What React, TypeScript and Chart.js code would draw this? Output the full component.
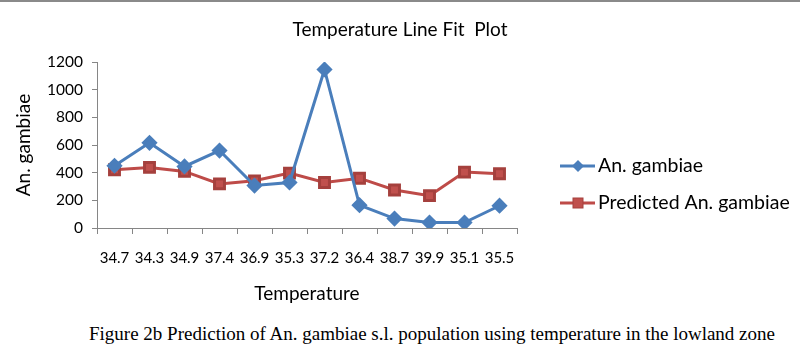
import React, { useEffect, useRef } from "react";
import { Chart, registerables } from "chart.js";

Chart.register(...registerables);

const temperatures = ["34.7", "34.3", "34.9", "37.4", "36.9", "35.3", "37.2", "36.4", "38.7", "39.9", "35.1", "35.5"];
const observed = [450, 616, 445, 560, 307, 329, 1146, 165, 68, 39, 39, 161];
const predicted = [421, 438, 409, 319, 341, 397, 329, 360, 275, 234, 404, 392];
const yTicks = [0, 200, 400, 600, 800, 1000, 1200];
const chartTitle = "Temperature Line Fit  Plot";

const FONT = "Lato, 'Noto Sans', sans-serif";

const legendPlugin = {
  id: "sideLegend",
  afterDraw(chart: any) {
    const ctx = chart.ctx;
    const items = chart.data.datasets;
    const x0 = 560;
    const ys = [166, 203];
    ctx.save();
    // title centered on the whole figure
    ctx.fillStyle = "#000";
    ctx.font = `19px ${FONT}`;
    ctx.textAlign = "center";
    ctx.textBaseline = "middle";
    ctx.fillText(chartTitle, 400, 30);
    items.forEach((ds: any, i: number) => {
      const y = ys[i];
      ctx.strokeStyle = ds.borderColor;
      ctx.lineWidth = 3;
      ctx.beginPath();
      ctx.moveTo(x0, y);
      ctx.lineTo(x0 + 35, y);
      ctx.stroke();
      const cx = x0 + 18;
      ctx.fillStyle = ds.pointBackgroundColor;
      ctx.strokeStyle = ds.pointBorderColor;
      ctx.lineWidth = 1;
      if (ds.pointStyle === "rectRot") {
        const r = 6;
        ctx.beginPath();
        ctx.moveTo(cx, y - r);
        ctx.lineTo(cx + r, y);
        ctx.lineTo(cx, y + r);
        ctx.lineTo(cx - r, y);
        ctx.closePath();
        ctx.fill();
      } else {
        const s = 10;
        ctx.fillRect(cx - s / 2, y - s / 2, s, s);
        ctx.strokeRect(cx - s / 2, y - s / 2, s, s);
      }
      ctx.fillStyle = "#000";
      ctx.font = `19.5px ${FONT}`;
      ctx.textBaseline = "middle";
      ctx.textAlign = "left";
      ctx.fillText(ds.label, x0 + 38, y);
    });
    ctx.restore();
  },
};

export default function App() {
  const ref = useRef<HTMLCanvasElement | null>(null);

  useEffect(() => {
    if (!ref.current) return;
    const chart = new Chart(ref.current, {
      type: "line",
      data: {
        labels: temperatures,
        datasets: [
          {
            label: "An. gambiae",
            data: observed,
            borderColor: "#4A7EBB",
            backgroundColor: "#4A7EBB",
            pointBackgroundColor: "#4A7EBB",
            pointBorderColor: "#4A7EBB",
            pointStyle: "rectRot",
            pointRadius: 6,
            borderWidth: 3,
            tension: 0,
          },
          {
            label: "Predicted An. gambiae",
            data: predicted,
            borderColor: "#BE4B48",
            backgroundColor: "#C0504D",
            pointBackgroundColor: "#C0504D",
            pointBorderColor: "#A5403D",
            pointStyle: "rect",
            pointRadius: 7,
            borderWidth: 3,
            tension: 0,
          },
        ],
      },
      options: {
        animation: false,
        responsive: false,
        maintainAspectRatio: false,
        layout: { padding: { left: 0, right: 283, top: 62, bottom: 0 } },
        plugins: {
          legend: { display: false },
          tooltip: { enabled: false },
          title: { display: false },
        },
        scales: {
          x: {
            offset: true,
            grid: {
              display: true,
              offset: true,
              drawOnChartArea: false,
              drawTicks: true,
              tickLength: 6,
              color: "#868686",
            },
            border: { display: true, color: "#868686", width: 1 },
            ticks: {
              color: "#000",
              font: { family: FONT, size: 15 },
              padding: 15,
              maxRotation: 0,
              autoSkip: false,
            },
            title: {
              display: true,
              text: "Temperature",
              color: "#000",
              font: { family: FONT, size: 19 },
              padding: { top: 0, bottom: 5 },
            },
            afterFit: (s: any) => {
              s.height = 82;
            },
          },
          y: {
            min: 0,
            max: 1200,
            afterBuildTicks: (s: any) => {
              s.ticks = yTicks.map((v) => ({ value: v }));
            },
            grid: {
              display: true,
              drawOnChartArea: false,
              drawTicks: true,
              tickLength: 5,
              color: "#868686",
            },
            border: { display: true, color: "#868686", width: 1 },
            ticks: {
              color: "#000",
              font: { family: FONT, size: 15.5 },
              padding: 9,
              callback: (v: any) => String(v),
            },
            title: {
              display: true,
              text: "An. gambiae",
              color: "#000",
              font: { family: FONT, size: 19 },
              padding: { top: 12, bottom: 0 },
            },
            afterFit: (s: any) => {
              s.width = 97;
            },
          },
        },
      },
      plugins: [legendPlugin],
    });
    return () => chart.destroy();
  }, []);

  return (
    <div
      style={{
        position: "fixed",
        left: 0,
        top: 0,
        width: 800,
        height: 358,
        background: "#fff",
        overflow: "hidden",
      }}
    >
      <div style={{ position: "absolute", left: 0, top: 0, width: 800, height: 2, background: "#8a8a8a" }} />
      <canvas ref={ref} width={800} height={310} style={{ position: "absolute", left: 0, top: 0, width: 800, height: 310 }} />
      <div
        style={{
          position: "absolute",
          left: 89,
          top: 323,
          width: 710,
          fontFamily: "'Liberation Serif', 'Times New Roman', serif",
          fontSize: 19,
          color: "#000",
          whiteSpace: "nowrap",
        }}
      >
        Figure 2b Prediction of An. gambiae s.l. population using temperature in the lowland zone
      </div>
    </div>
  );
}
